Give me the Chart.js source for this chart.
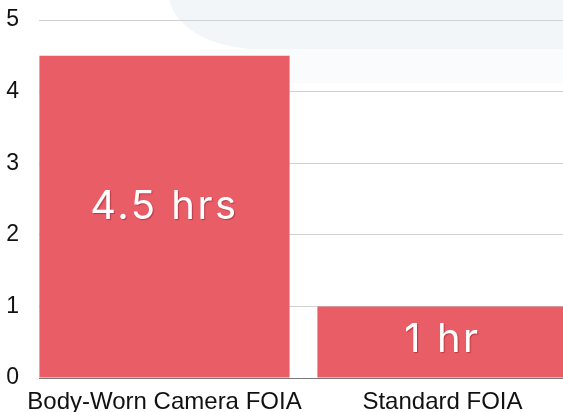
<!DOCTYPE html>
<html>
<head>
<meta charset="utf-8">
<script src="https://cdn.jsdelivr.net/npm/chart.js@4/dist/chart.umd.min.js"></script>
<style>
  html, body { margin: 0; padding: 0; background: #fff; }
  #wrap { position: relative; width: 563px; height: 412px; overflow: hidden; }
  .mark { position: absolute; left: 169px; top: -10px; width: 420px; height: 59px;
          background: #f3f6f9; border-bottom-left-radius: 90px 55px; }
  .mark2 { position: absolute; left: 200px; top: 49px; width: 380px; height: 34px; background: #fafbfc; }
  canvas { position: relative; }
</style>
</head>
<body>
<div id="wrap">
  <div class="mark"></div>
  <div class="mark2"></div>
  <canvas id="chart" width="563" height="412"></canvas>
</div>
<script>
const categories = ["Body-Worn Camera FOIA", "Standard FOIA"];
const hours = [4.5, 1];
const barLabels = ["4.5 hrs", "1 hr"];
const yTicks = [0, 1, 2, 3, 4, 5];

const barColor = "#e95d67";

// white text inside each bar, a bit above its middle
const barText = {
  id: "barText",
  afterDatasetsDraw(chart) {
    const ctx = chart.ctx;
    const yScale = chart.scales.y;
    const meta = chart.getDatasetMeta(0);
    ctx.save();
    ctx.font = "40px Inter";
    ctx.letterSpacing = "2.5px";
    ctx.textAlign = "center";
    ctx.textBaseline = "middle";
    ctx.fillStyle = "#fff";
    ctx.shadowColor = "rgba(120, 20, 30, 0.45)";
    ctx.shadowOffsetX = 1;
    ctx.shadowOffsetY = 1;
    ctx.shadowBlur = 1;
    meta.data.forEach((bar, i) => {
      ctx.fillText(barLabels[i], bar.x, yScale.getPixelForValue(hours[i] * 0.53));
    });
    ctx.restore();
  }
};

new Chart(document.getElementById("chart"), {
  type: "bar",
  data: {
    datasets: [
      {
        data: hours.map((v, i) => ({ x: i, y: v })),
        backgroundColor: barColor,
        borderWidth: 0,
        barPercentage: 0.9,
        categoryPercentage: 1,
      },
    ],
  },
  options: {
    responsive: false,
    animation: false,
    layout: { padding: { top: 20, right: 0, bottom: 0, left: 0 } },
    plugins: { legend: { display: false }, tooltip: { enabled: false } },
    scales: {
      x: {
        type: "linear",
        min: -0.4514,
        max: 1.4335,
        offset: false,
        grid: { display: false },
        border: { display: true, color: "#777", width: 1 },
        afterBuildTicks: (s) => { s.ticks = categories.map((c, i) => ({ value: i })); },
        afterFit: (s) => { s.height = 34; s.paddingLeft = 0; s.paddingRight = 0; },
        ticks: {
          autoSkip: false,
          maxRotation: 0,
          padding: 2,
          color: "#111",
          font: { family: "Liberation Sans, Arial, sans-serif", size: 24 },
          callback: (v) => categories[v],
        },
      },
      y: {
        min: 0,
        max: 5,
        afterBuildTicks: (s) => { s.ticks = yTicks.map((v) => ({ value: v })); },
        afterFit: (s) => { s.width = 39; s.paddingTop = 0; s.paddingBottom = 0; },
        grid: { color: "#d2d2d2", drawTicks: false },
        border: { display: false },
        ticks: {
          padding: 20,
          color: "#111",
          font: { family: "Liberation Sans, Arial, sans-serif", size: 23 },
        },
      },
    },
  },
  plugins: [barText],
});
</script>
</body>
</html>
